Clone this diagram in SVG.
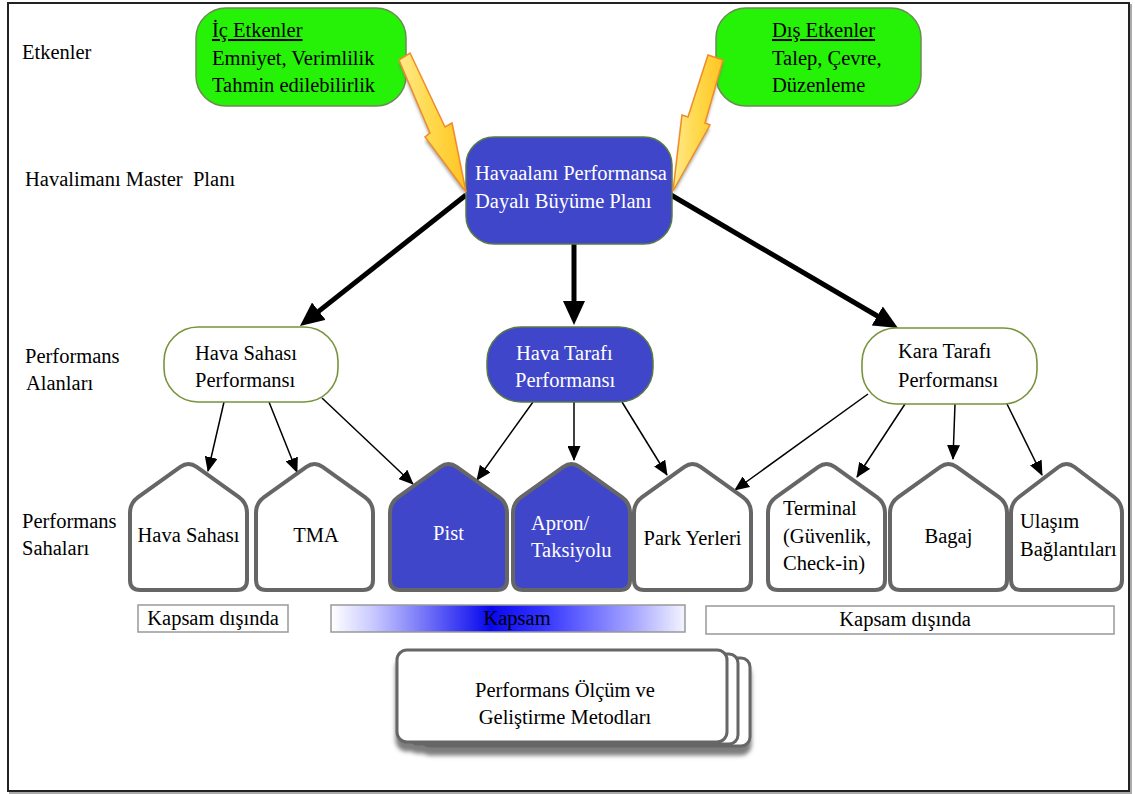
<svg xmlns="http://www.w3.org/2000/svg" width="1135" height="794" viewBox="0 0 1135 794">
<style>
text{font-family:"Liberation Serif","Times New Roman",serif;font-size:20.5px;fill:#000}
.w{fill:#fff}
.c{text-anchor:middle}
.u{text-decoration:underline}
.green{fill:#25f206;stroke:#6d8a55;stroke-width:1.5}
.blue{fill:#3f46c9;stroke:#5a7a45;stroke-width:1.5}
.wbox{fill:#fff;stroke:#77933c;stroke-width:1.6}
.pw{fill:#fff;stroke:#666;stroke-width:4}
.pb{fill:#3f46c9;stroke:#666;stroke-width:4}
.thick{stroke:#000;stroke-width:5;fill:none;marker-end:url(#bigHead)}
.thin{stroke:#000;stroke-width:1.5;fill:none;marker-end:url(#smallHead)}
.yarrow{fill:url(#ygrad);stroke:#f08c28;stroke-width:1.5}
.stack{fill:#fff;stroke:#666;stroke-width:3}
.bar{stroke:#999;stroke-width:1.5}
</style>
<defs>
<marker id="bigHead" markerUnits="userSpaceOnUse" markerWidth="24" markerHeight="22" viewBox="0 0 24 22" refX="12" refY="11" orient="auto"><path d="M0,0 L24,11 L0,22 Z" fill="#000"/></marker>
<marker id="smallHead" markerUnits="userSpaceOnUse" markerWidth="15" markerHeight="13" viewBox="0 0 15 13" refX="14" refY="6.5" orient="auto"><path d="M0,0 L15,6.5 L0,13 Z" fill="#000"/></marker>
<linearGradient id="ygrad" x1="0" y1="0" x2="1" y2="0"><stop offset="0" stop-color="#ffe98a"/><stop offset="0.5" stop-color="#ffd84a"/><stop offset="1" stop-color="#ffc422"/></linearGradient>
<linearGradient id="kgrad" x1="0" y1="0" x2="1" y2="0"><stop offset="0" stop-color="#ffffff"/><stop offset="0.12" stop-color="#c8c8ff"/><stop offset="0.45" stop-color="#0808ee"/><stop offset="0.6" stop-color="#3434ff"/><stop offset="0.85" stop-color="#a4a4ff"/><stop offset="1" stop-color="#f4f4ff"/></linearGradient>
<filter id="blur1" x="-20%" y="-20%" width="140%" height="140%"><feGaussianBlur stdDeviation="1.5"/></filter>
<filter id="dshadow" x="-10%" y="-10%" width="120%" height="140%"><feDropShadow dx="0" dy="8" stdDeviation="2" flood-color="#666" flood-opacity="0.85"/></filter>
<path id="pent" d="M66.6,5.9 L108.9,36.1 Q117,42 117,52 L117,119 Q117,129 107,129 L10,129 Q0,129 0,119 L0,52 Q0,42 8.1,36.1 L50.4,5.9 Q58.5,0 66.6,5.9 Z"/>
</defs>

<rect x="10" y="5" width="1121" height="788" fill="none" stroke="#aaa" stroke-width="2"/>
<rect x="8" y="3" width="1121" height="788" fill="#fff" stroke="#222" stroke-width="2"/>

<g id="labels">
<text x="22" y="59">Etkenler</text>
<text x="25" y="186" xml:space="preserve">Havalimanı Master  Planı</text>
<text x="25" y="363">Performans</text>
<text x="26" y="390">Alanları</text>
<text x="22" y="528">Performans</text>
<text x="22" y="555">Sahaları</text>
</g>

<g id="connectors">
<line class="thick" x1="466" y1="195" x2="309.4" y2="318.6"/>
<line class="thick" x1="574" y1="244" x2="574" y2="313"/>
<line class="thick" x1="671" y1="195" x2="887.6" y2="322"/>
<line class="thin" x1="224" y1="402" x2="208" y2="471"/>
<line class="thin" x1="269" y1="402" x2="297" y2="472"/>
<line class="thin" x1="322" y1="398" x2="413" y2="484"/>
<line class="thin" x1="533" y1="402" x2="477" y2="480"/>
<line class="thin" x1="574" y1="402" x2="574" y2="460"/>
<line class="thin" x1="622" y1="402" x2="667" y2="475"/>
<line class="thin" x1="868" y1="394" x2="735" y2="490"/>
<line class="thin" x1="905" y1="404" x2="857" y2="477"/>
<line class="thin" x1="955" y1="404" x2="953" y2="459"/>
<line class="thin" x1="1007" y1="404" x2="1042" y2="475"/>
</g>

<g id="ic-etkenler">
<rect class="green" x="196" y="8" width="210" height="98" rx="30"/>
<text x="212" y="37" class="u">İç Etkenler</text>
<text x="212" y="65">Emniyet, Verimlilik</text>
<text x="212" y="92">Tahmin edilebilirlik</text>
</g>
<g id="dis-etkenler">
<rect class="green" x="716" y="8" width="205" height="98" rx="30"/>
<text x="772" y="37" class="u">Dış Etkenler</text>
<text x="772" y="65">Talep, Çevre,</text>
<text x="772" y="92">Düzenleme</text>
</g>
<g id="master-plan">
<rect class="blue" x="466" y="137" width="206" height="107" rx="28"/>
<text x="475" y="180" class="w">Havaalanı Performansa</text>
<text x="475" y="208" class="w">Dayalı Büyüme Planı</text>
</g>

<g id="yellow-arrows">
<g transform="translate(0,4)" fill="#777" opacity="0.6" filter="url(#blur1)">
<polygon points="410,53 445,127 452,123 466,192 425,137 430,133 399,60"/>
<polygon points="708,55 723,60 705,123 710,125 673,191 682,115 688,117"/>
</g>
<polygon class="yarrow" points="410,53 445,127 452,123 466,192 425,137 430,133 399,60"/>
<polygon class="yarrow" points="708,55 723,60 705,123 710,125 673,191 682,115 688,117"/>
</g>

<g id="hava-sahasi-perf">
<rect class="wbox" x="164" y="327" width="174" height="75" rx="34"/>
<text x="195" y="360">Hava Sahası</text>
<text x="195" y="387">Performansı</text>
</g>
<g id="hava-tarafi-perf">
<rect class="blue" x="487" y="327" width="166" height="75" rx="34"/>
<text x="516" y="360" class="w">Hava Tarafı</text>
<text x="515" y="387" class="w">Performansı</text>
</g>
<g id="kara-tarafi-perf">
<rect class="wbox" x="862" y="328" width="175" height="76" rx="34"/>
<text x="898" y="358">Kara Tarafı</text>
<text x="898" y="387">Performansı</text>
</g>

<g id="hava-sahasi">
<use href="#pent" class="pw" transform="translate(130,461)"/>
<text x="188.5" y="542" class="c">Hava Sahası</text>
</g>
<g id="tma">
<use href="#pent" class="pw" transform="translate(256,461)"/>
<text x="316" y="542" class="c">TMA</text>
</g>
<g id="pist">
<use href="#pent" class="pb" transform="translate(390,461)"/>
<text x="448.5" y="540" class="c w">Pist</text>
</g>
<g id="apron">
<use href="#pent" class="pb" transform="translate(513,461)"/>
<text x="531" y="530" class="w">Apron/</text>
<text x="531" y="557" class="w">Taksiyolu</text>
</g>
<g id="park">
<use href="#pent" class="pw" transform="translate(634,461)"/>
<text x="692.5" y="545" class="c">Park Yerleri</text>
</g>
<g id="terminal">
<use href="#pent" class="pw" transform="translate(768,461)"/>
<text x="783" y="515">Terminal</text>
<text x="783" y="543">(Güvenlik,</text>
<text x="783" y="570">Check-in)</text>
</g>
<g id="bagaj">
<use href="#pent" class="pw" transform="translate(890,461)"/>
<text x="948.5" y="543" class="c">Bagaj</text>
</g>
<g id="ulasim">
<path class="pw" transform="translate(1011,461)" d="M63.5,6 L103,36 Q111,42 111,52 L111,119 Q111,129 101,129 L10,129 Q0,129 0,119 L0,52 Q0,42 8,36 L47.5,6 Q55.5,0 63.5,6 Z"/>
<text x="1020" y="528">Ulaşım</text>
<text x="1020" y="556">Bağlantıları</text>
</g>

<g id="kapsam-disinda-1">
<rect class="bar" x="138" y="605" width="150" height="27" fill="#fff"/>
<text x="213" y="625" class="c">Kapsam dışında</text>
</g>
<g id="kapsam">
<rect class="bar" x="331" y="605" width="354" height="27" fill="url(#kgrad)"/>
<text x="517" y="625" class="c">Kapsam</text>
</g>
<g id="kapsam-disinda-2">
<rect class="bar" x="706" y="606" width="408" height="28" fill="#fff"/>
<text x="905" y="626" class="c">Kapsam dışında</text>
</g>

<g id="metodlar">
<g filter="url(#dshadow)">
<rect class="stack" x="421" y="658" width="329" height="88" rx="9"/>
<rect class="stack" x="409" y="654" width="329" height="90" rx="9"/>
<rect class="stack" x="397" y="650" width="330" height="92" rx="10"/>
</g>
<text x="565" y="697" class="c">Performans Ölçüm ve</text>
<text x="565" y="724" class="c">Geliştirme Metodları</text>
</g>
</svg>
